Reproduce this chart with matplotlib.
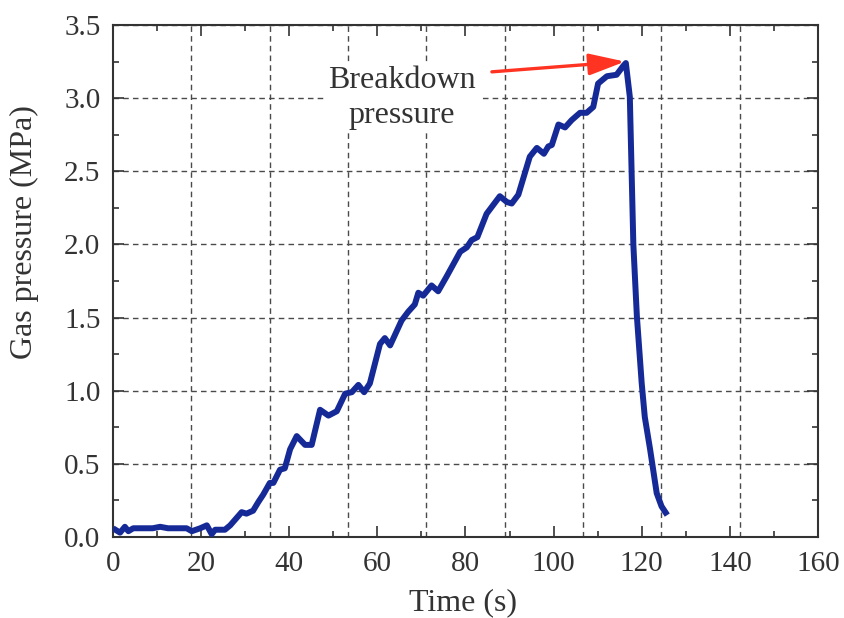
import numpy as np
import matplotlib.pyplot as plt
from matplotlib.ticker import MultipleLocator

# values
time_s = [
    0.0, 1.6, 2.7, 3.5, 4.6, 7.0, 9.0, 10.7, 12.5, 14.5, 16.7, 17.9,
    19.8, 21.3, 22.4, 23.2, 25.4, 26.6, 29.2, 30.3, 31.8, 33.0, 34.1,
    35.6, 36.4, 37.9, 39.0, 40.2, 41.7, 43.6, 45.1, 47.0, 48.9, 50.8,
    52.7, 54.2, 55.7, 57.0, 58.3, 60.6, 61.7, 62.9, 65.5, 67.0, 68.5,
    69.3, 70.4, 72.3, 73.8, 75.7, 78.8, 80.3, 81.4, 82.7, 84.8, 86.3,
    87.8, 89.4, 90.5, 92.0, 94.6, 96.2, 97.8, 98.8, 99.6, 101.1, 102.6,
    104.1, 106.0, 107.5, 109.0, 110.1, 112.1, 114.3, 115.8, 116.4,
    117.3, 118.1, 118.9, 120.0, 120.7, 121.9, 123.4, 124.5, 125.8,
]
pressure_mpa = [
    0.06, 0.03, 0.07, 0.04, 0.06, 0.06, 0.06, 0.07, 0.06, 0.06, 0.06, 0.04,
    0.06, 0.08, 0.02, 0.05, 0.05, 0.08, 0.17, 0.16, 0.18, 0.24, 0.29,
    0.37, 0.37, 0.46, 0.47, 0.60, 0.69, 0.63, 0.63, 0.87, 0.83, 0.86,
    0.98, 0.99, 1.04, 0.99, 1.05, 1.32, 1.36, 1.31, 1.48, 1.54, 1.59,
    1.67, 1.65, 1.72, 1.68, 1.78, 1.95, 1.98, 2.03, 2.05, 2.21, 2.27,
    2.33, 2.29, 2.28, 2.34, 2.60, 2.66, 2.62, 2.67, 2.68, 2.82, 2.80,
    2.85, 2.90, 2.90, 2.94, 3.10, 3.15, 3.16, 3.22, 3.24,
    3.01, 2.00, 1.51, 1.05, 0.82, 0.60, 0.30, 0.21, 0.15,
]

x_ticks = [0, 20, 40, 60, 80, 100, 120, 140, 160]
y_ticks = [0.0, 0.5, 1.0, 1.5, 2.0, 2.5, 3.0, 3.5]

plt.rcParams["font.family"] = ["Liberation Serif", "DejaVu Serif"]

fig = plt.figure(figsize=(8.45, 6.18), dpi=100)
ax = fig.add_axes([0.1337, 0.131, 0.8343, 0.8285])

ax.set_xlim(0, 160)
ax.set_ylim(0, 3.5)

# grid: horizontal at the y ticks, vertical split into nine parts
ax.yaxis.grid(True, linestyle=(0, (4, 3)), color="#4a4a4a", linewidth=1.0)
for gx in np.linspace(0, 160, 10)[1:-1]:
    ax.axvline(gx, linestyle=(0, (4, 3)), color="#4a4a4a", linewidth=1.0, zorder=0.5)

ax.plot(time_s, pressure_mpa, color="#152a96", linewidth=4.3,
        solid_joinstyle="round", solid_capstyle="butt", zorder=3)

ax.set_xticks(x_ticks)
ax.set_yticks(y_ticks)
ax.set_yticklabels([f"{v:.1f}" for v in y_ticks])
ax.xaxis.set_minor_locator(MultipleLocator(10))
ax.yaxis.set_minor_locator(MultipleLocator(0.25))
ax.tick_params(which="both", direction="in", top=True, right=True,
               color="#333333", width=1.2, labelcolor="#333333")
ax.tick_params(which="major", length=8, labelsize=21)
ax.tick_params(which="minor", length=4.5)
ax.tick_params(axis="x", which="major", pad=10)
ax.tick_params(axis="y", which="major", pad=9)

for sp in ax.spines.values():
    sp.set_color("#333333")
    sp.set_linewidth(1.5)

ax.set_xlabel("Time (s)", fontsize=23, color="#333333")
ax.set_ylabel("Gas pressure (MPa)", fontsize=23, color="#333333")
ax.xaxis.set_label_coords(0.496, -0.1)
ax.xaxis.label.set_va("top")
ax.yaxis.set_label_coords(-0.125, 0.596)
ax.yaxis.label.set_va("center")

ax.text(65.6, 3.0, "Breakdown\npressure", fontsize=23, color="#333333",
        ha="center", va="center", linespacing=1.3, zorder=4,
        bbox=dict(facecolor="white", edgecolor="none", pad=2))
ax.annotate("", xy=(116.2, 3.25), xytext=(86.0, 3.18),
            arrowprops=dict(arrowstyle="-|>,head_length=1.1,head_width=0.33",
                            mutation_scale=20, color="#ff3322", linewidth=2.4,
                            shrinkA=0, shrinkB=0),
            zorder=5)

fig.savefig("out.png", dpi=100)
